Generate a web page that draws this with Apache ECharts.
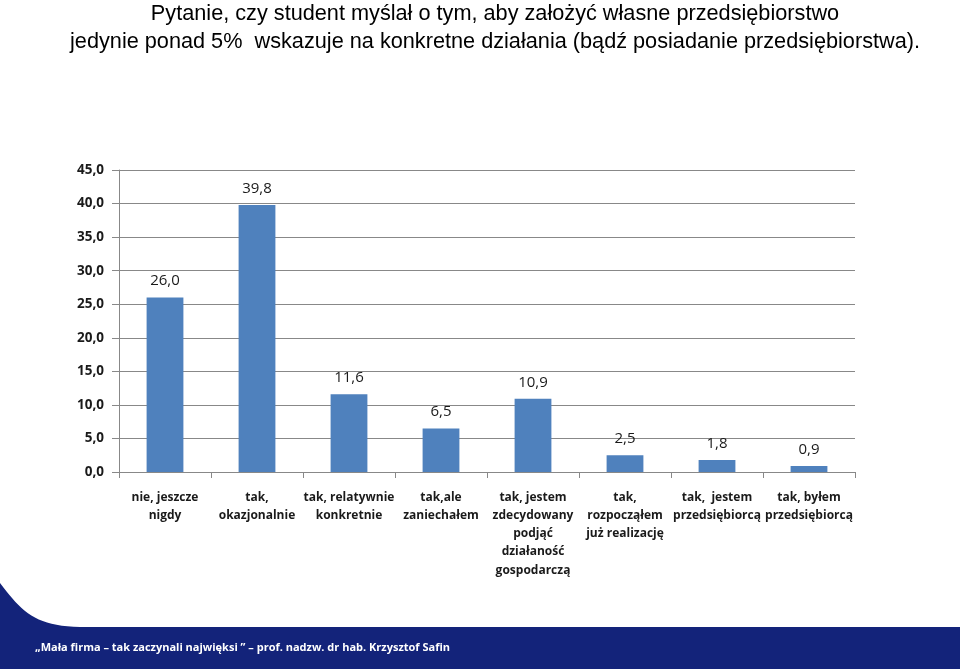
<!DOCTYPE html>
<html><head><meta charset="utf-8">
<script src="https://cdn.jsdelivr.net/npm/echarts@6/dist/echarts.min.js"></script>
<style>html,body{margin:0;padding:0;background:#fff}#c{width:960px;height:669px}</style>
</head><body><div id="c"></div>
<script>
const categories = [
  'nie, jeszcze\nnigdy',
  'tak,\nokazjonalnie',
  'tak, relatywnie\nkonkretnie',
  'tak,ale\nzaniechałem',
  'tak, jestem\nzdecydowany\npodjąć\ndziałaność\ngospodarczą',
  'tak,\nrozpocząłem\njuż realizację',
  'tak,  jestem\nprzedsiębiorcą',
  'tak, byłem\nprzedsiębiorcą'
];
const values = [26.0, 39.8, 11.6, 6.5, 10.9, 2.5, 1.8, 0.9];
const titleLines = [
  'Pytanie, czy student myślał o tym, aby założyć własne przedsiębiorstwo',
  'jedynie ponad 5%  wskazuje na konkretne działania (bądź posiadanie przedsiębiorstwa).'
];
const footerText = '„Mała firma – tak zaczynali najwięksi ” – prof. nadzw. dr hab. Krzysztof Safin';

const fmt = v => v.toFixed(1).replace('.', ',');

// decorative footer band outline (curved top-left corner)
function bandPoints() {
  const pts = [];
  const p0 = [0, 583], p1 = [22, 612], p2 = [35, 626], p3 = [80, 627];
  for (let i = 0; i <= 20; i++) {
    const t = i / 20, u = 1 - t;
    pts.push([
      u*u*u*p0[0] + 3*u*u*t*p1[0] + 3*u*t*t*p2[0] + t*t*t*p3[0],
      u*u*u*p0[1] + 3*u*u*t*p1[1] + 3*u*t*t*p2[1] + t*t*t*p3[1]
    ]);
  }
  pts.push([960, 627], [960, 669], [0, 669]);
  return pts;
}

const chart = echarts.init(document.getElementById('c'));
chart.setOption({
  backgroundColor: '#fff',
  animation: false,
  graphic: [
    { type: 'polygon', shape: { points: bandPoints() }, style: { fill: '#13237a' }, z: -1 },
    { type: 'text', left: 35, top: 642, style: { text: footerText, fill: '#fff', font: 'bold 11px "Open Sans"' } },
    { type: 'text', x: 495, y: 0, style: { text: titleLines.join('\n'), fill: '#000', align: 'center', font: '21.7px "Liberation Sans"', lineHeight: 28 } }
  ],
  grid: { left: 119, right: 105, top: 170, bottom: 197 },
  xAxis: {
    type: 'category', data: categories,
    axisLine: { lineStyle: { color: '#888', width: 1 } },
    axisTick: { show: true, length: 6, lineStyle: { color: '#888' } },
    axisLabel: { interval: 0, color: '#1a1a1a', fontFamily: 'Open Sans', fontWeight: 'bold', fontSize: 12, lineHeight: 18.3, margin: 16 }
  },
  yAxis: {
    type: 'value', min: 0, max: 45, interval: 5,
    axisLine: { show: true, lineStyle: { color: '#888' } },
    axisTick: { show: true, length: 7, lineStyle: { color: '#888' } },
    splitLine: { lineStyle: { color: '#888', width: 1 } },
    axisLabel: { formatter: v => fmt(v), color: '#1a1a1a', fontFamily: 'Open Sans', fontWeight: 'bold', fontSize: 13.5, margin: 15 }
  },
  series: [{
    type: 'bar', data: values, barWidth: '40%',
    itemStyle: { color: '#4f81bd' },
    label: { show: true, position: 'top', distance: 9, formatter: p => fmt(p.value), color: '#1a1a1a', fontFamily: 'Open Sans', fontSize: 15 }
  }]
});
</script></body></html>
